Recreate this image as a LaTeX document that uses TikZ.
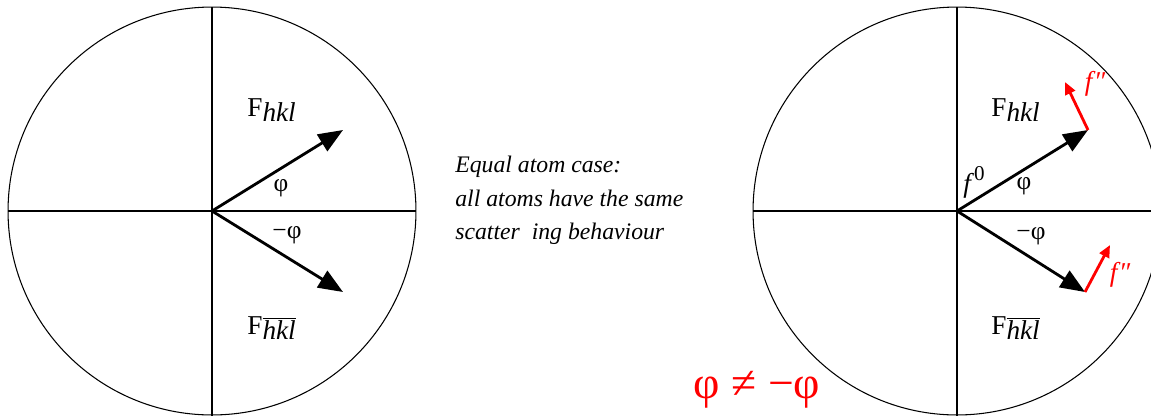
\documentclass[tikz,border=0pt]{standalone}
\usepackage{fontspec}
\IfFontExistsTF{LiberationSerif-Regular.ttf}
  {\setmainfont{LiberationSerif}[Extension=.ttf, UprightFont=*-Regular, ItalicFont=*-Italic, BoldFont=*-Bold]}
  {\setmainfont{Liberation Serif}}
\usetikzlibrary{arrows.meta}
\tikzset{
  axis/.style={black, line width=0.6pt},
  vec/.style={black, line width=1.6pt, -{Triangle[length=14pt,width=11pt]}},
  fpp/.style={red, line width=1.6pt, -{Triangle[length=7pt,width=6pt]}},
  lbl/.style={font=\fontsize{15.5}{18}\selectfont, inner sep=0pt},
  ang/.style={font=\fontsize{14.5}{16}\selectfont, inner sep=0pt},
}
\newcommand{\Fhkl}{F\raisebox{-0.45ex}{\textit{hkl}}}
\newcommand{\Fbar}{F\raisebox{-0.45ex}{$\overline{\hbox{\textit{hkl}}}$}}

\begin{document}
\begin{tikzpicture}[x=0.02cm, y=-0.02cm]
    \useasboundingbox (0,0) rectangle (1151,416);
    \clip (0,0) rectangle (1151,416);

    % Left circle: equal atom case
    \coordinate (O1) at (212,211);
    \draw[axis] (O1) circle (4.08cm);
    \draw[axis] (8,211) -- (416,211);
    \draw[axis] (212,7) -- (212,416);
    \coordinate (P1) at (343,130);
    \coordinate (M1) at (343,292);
    \draw[vec] (O1) -- (P1);
    \draw[vec] (O1) -- (M1);
    \node[lbl, anchor=base west] (F1) at (247,116) {\Fhkl};
    \node[lbl, anchor=base west] (G1) at (247,334) {\Fbar};
    \node[ang] (phi1) at (281,188) {φ};
    \node[ang] (mphi1) at (287,235) {−φ};

    % Explanation
    \node[font=\fontsize{13.5}{19}\selectfont\itshape, anchor=north west, align=left, inner sep=0pt]
        (note) at (455,156) {Equal atom case:\\all atoms have the same\\scatter~ ing behaviour};

    % Right circle: anomalous scattering
    \coordinate (O2) at (957,211);
    \draw[axis] (O2) circle (4.08cm);
    \draw[axis] (753,211) -- (1161,211);
    \draw[axis] (957,7) -- (957,416);
    \coordinate (P2) at (1088,130);
    \coordinate (M2) at (1085,292);
    \coordinate (Q2) at (1065,82);
    \coordinate (R2) at (1110,245);
    \draw[vec] (O2) -- (P2);
    \draw[vec] (O2) -- (M2);
    \draw[fpp] (P2) -- (Q2);
    \draw[fpp] (M2) -- (R2);
    \node[lbl, anchor=base west] (F2) at (991,116) {\Fhkl};
    \node[lbl, anchor=base west] (G2) at (991,334) {\Fbar};
    \node[ang] (phi2) at (1024,186) {φ};
    \node[ang] (mphi2) at (1031,236) {−φ};
    \node[lbl, anchor=base west] (f0) at (963,192) {\textit{f}\raisebox{0.9ex}{\fontsize{12}{14}\selectfont 0}};
    \node[lbl, red] (fa) at (1096,84) {\textit{f}″};
    \node[lbl, red] (fb) at (1121,275) {\textit{f}″};

    % Conclusion
    \node[red, font=\fontsize{26}{30}\selectfont, inner sep=0pt] (neq) at (757,390) {φ ≠ −φ};
\end{tikzpicture}
\end{document}
